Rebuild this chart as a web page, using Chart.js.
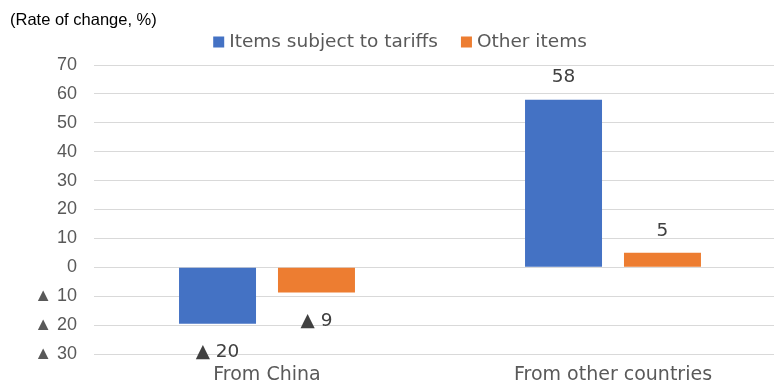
<!DOCTYPE html>
<html>
<head>
<meta charset="utf-8">
<script src="https://cdn.jsdelivr.net/npm/chart.js@4"></script>
<style>
  html, body { margin: 0; padding: 0; background: #fff; overflow: hidden; }
  #wrap { width: 800px; height: 389px; position: relative; }
</style>
</head>
<body>
<div id="wrap"><canvas id="chart"></canvas></div>
<script>
// Chart data
const categories = ['From China', 'From other countries'];
const seriesNames = ['Items subject to tariffs', 'Other items'];
const tariffItems = [-19.5, 58];
const otherItems = [-8.7, 5];
const yTicks = { min: -30, max: 70, step: 10 };
const unitLabel = '(Rate of change, %)';

const BLUE = '#4472C4';
const ORANGE = '#ED7D31';
const TEXT = '#595959';
const LABEL_FONT = '"DejaVu Sans", sans-serif';

// negative values are written with a triangle, like "▲ 20"
function fmt(v) {
    const r = Math.round(Math.abs(v));
    return v < 0 ? '\u25B2 ' + r : String(r);
}

// value labels above / below each bar
const barLabels = {
    id: 'barLabels',
    afterDatasetsDraw(chart) {
        const ctx = chart.ctx;
        ctx.save();
        ctx.font = '18.5px ' + LABEL_FONT;
        ctx.fillStyle = '#404040';
        ctx.textAlign = 'center';
        ctx.textBaseline = 'middle';
        chart.data.datasets.forEach((ds, i) => {
            chart.getDatasetMeta(i).data.forEach((bar, j) => {
                const v = ds.data[j];
                const y = v < 0 ? bar.y + 29 : bar.y - 22;
                ctx.fillText(fmt(v), bar.x, y);
            });
        });
        ctx.restore();
    }
};

// unit caption and legend on top
const header = {
    id: 'header',
    afterDraw(chart) {
        const ctx = chart.ctx;
        ctx.save();
        ctx.fillStyle = '#000';
        ctx.font = '16.5px "Liberation Sans", Arial, sans-serif';
        ctx.textBaseline = 'middle';
        ctx.fillText(unitLabel, 10, 20);

        ctx.font = '18.5px ' + LABEL_FONT;
        const colors = [BLUE, ORANGE];
        const box = 11, gap = 5, between = 23;
        const widths = seriesNames.map(n => ctx.measureText(n).width);
        let total = 0;
        widths.forEach((w, i) => total += box + gap + w + (i ? between : 0));
        let x = chart.width / 2 - total / 2;
        const y = 42;
        seriesNames.forEach((n, i) => {
            ctx.fillStyle = colors[i];
            ctx.fillRect(x, y - box / 2, box, box);
            ctx.fillStyle = TEXT;
            ctx.fillText(n, x + box + gap, y);
            x += box + gap + widths[i] + between;
        });
        ctx.restore();
    }
};

new Chart(document.getElementById('chart'), {
    type: 'bar',
    data: {
        labels: categories,
        datasets: [
            { label: seriesNames[0], data: tariffItems, backgroundColor: BLUE },
            { label: seriesNames[1], data: otherItems, backgroundColor: ORANGE }
        ]
    },
    options: {
        responsive: true,
        maintainAspectRatio: false,
        animation: false,
        layout: { padding: { top: 65, right: 14, left: 0, bottom: 0 } },
        datasets: {
            bar: { categoryPercentage: 0.572, barPercentage: 0.778 }
        },
        plugins: {
            legend: { display: false },
            tooltip: { enabled: false }
        },
        scales: {
            x: {
                grid: { display: false },
                border: { display: false },
                ticks: {
                    color: TEXT,
                    font: { family: LABEL_FONT, size: 19 },
                    padding: 2
                },
                afterFit: (s) => { s.height = 35; }
            },
            y: {
                min: yTicks.min,
                max: yTicks.max,
                grid: { color: '#d9d9d9', lineWidth: 1, drawTicks: false },
                border: { display: false },
                ticks: {
                    stepSize: yTicks.step,
                    color: TEXT,
                    font: { family: '"Liberation Sans", Arial, sans-serif', size: 18 },
                    padding: 17,
                    callback: (v) => fmt(v)
                },
                afterFit: (s) => { s.width = 94; }
            }
        }
    },
    plugins: [barLabels, header]
});
</script>
</body>
</html>
